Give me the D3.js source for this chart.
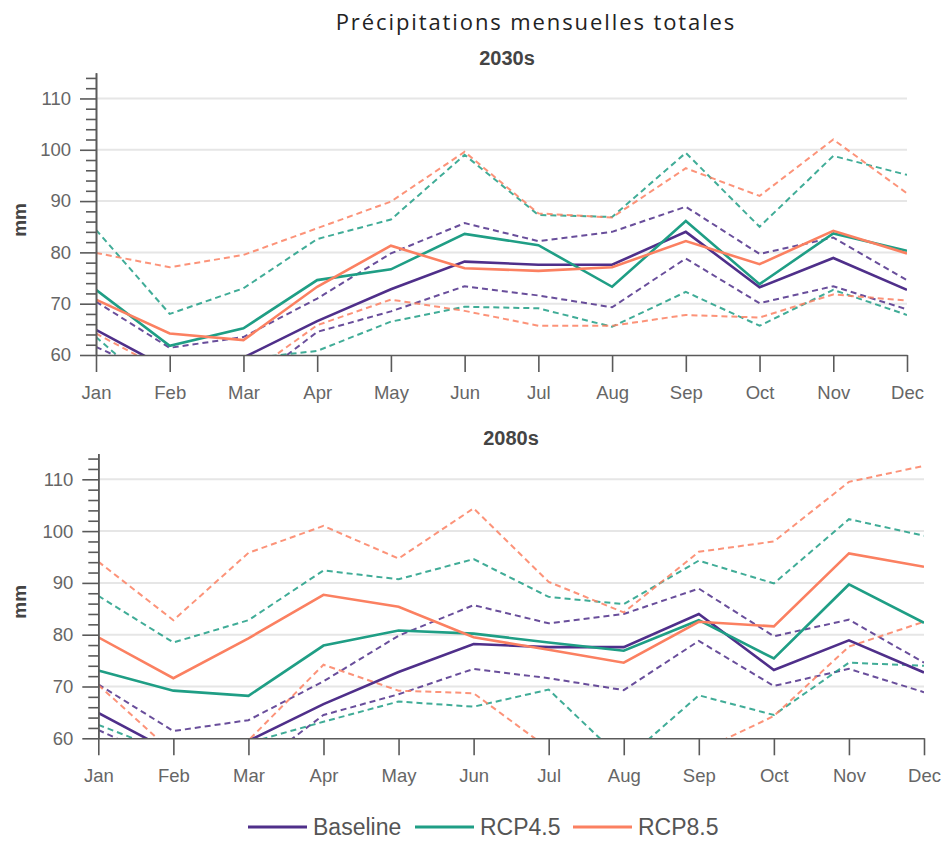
<!DOCTYPE html>
<html>
<head>
<meta charset="utf-8">
<script src="https://d3js.org/d3.v7.min.js"></script>
<style>
    body { margin: 0; background: #fff; }
    svg { display: block; }
    .axis path, .axis line { stroke: #5a5a5a; stroke-width: 1.6; }
    .axis text { font-family: "Liberation Sans", Arial, sans-serif; font-size: 18.5px; fill: #666; }
    .grid line { stroke: #e6e6e6; stroke-width: 2; }
</style>
</head>
<body>
<svg id="chart" width="946" height="842"></svg>
<script>
// mois
const months = ['Jan', 'Feb', 'Mar', 'Apr', 'May', 'Jun', 'Jul', 'Aug', 'Sep', 'Oct', 'Nov', 'Dec'];
const yTicks = [60, 70, 80, 90, 100, 110];
const scenarios = ['Baseline', 'RCP4.5', 'RCP8.5'];

// baseline (identique dans les deux panneaux)
const baselineMean = [64.9, 57.2, 59.5, 66.6, 72.8, 78.2, 77.6, 77.6, 84.0, 73.2, 78.9, 72.7];
const baselineHigh = [70.4, 61.4, 63.5, 71.0, 79.8, 85.7, 82.2, 84.0, 88.9, 79.7, 82.9, 74.6];
const baselineLow = [61.6, 55.0, 53.5, 64.5, 68.5, 73.4, 71.6, 69.3, 78.8, 70.1, 73.4, 68.9];

// 2030s
const rcp45Mean30 = [72.7, 61.8, 65.2, 74.6, 76.7, 83.6, 81.4, 73.3, 86.1, 73.8, 83.7, 80.3];
const rcp45High30 = [84.4, 68.0, 73.0, 82.6, 86.4, 99.0, 87.3, 86.9, 99.4, 85.0, 98.8, 95.1];
const rcp45Low30 = [63.5, 51.0, 59.2, 60.8, 66.5, 69.4, 69.1, 65.5, 72.3, 65.7, 72.7, 67.8];
const rcp85Mean30 = [70.8, 64.2, 62.9, 73.3, 81.3, 76.9, 76.4, 77.1, 82.2, 77.7, 84.2, 79.8];
const rcp85High30 = [79.9, 77.1, 79.5, 84.7, 89.9, 99.6, 87.6, 86.8, 96.4, 91.0, 102.0, 91.5];
const rcp85Low30 = [64.2, 56.5, 55.5, 65.8, 70.8, 68.6, 65.7, 65.7, 67.8, 67.3, 71.8, 70.6];

// 2080s
const rcp45Mean80 = [73.1, 69.2, 68.2, 77.9, 80.8, 80.2, 78.5, 76.9, 82.8, 75.4, 89.7, 82.3];
const rcp45High80 = [87.5, 78.5, 82.8, 92.4, 90.7, 94.6, 87.3, 85.9, 94.3, 89.9, 102.3, 99.1];
const rcp45Low80 = [62.6, 57.0, 59.1, 63.2, 67.1, 66.1, 69.4, 55.6, 68.3, 64.5, 74.6, 74.0];
const rcp85Mean80 = [79.5, 71.6, 79.3, 87.7, 85.4, 79.5, 77.1, 74.6, 82.5, 81.6, 95.7, 93.1];
const rcp85High80 = [94.1, 82.8, 95.8, 101.0, 94.7, 104.4, 90.2, 84.3, 96.0, 98.0, 109.5, 112.6];
const rcp85Low80 = [70.3, 57.2, 59.6, 74.2, 69.2, 68.7, 58.0, 55.0, 57.4, 64.3, 77.7, 82.5];

const colors = { 'Baseline': '#4f2f8a', 'RCP4.5': '#1f9e85', 'RCP8.5': '#fb8061' };

let svg = d3.select('svg#chart');

const config = {
    font: '"Liberation Sans", Arial, sans-serif',
    solidWidth: 2.6,
    dashWidth: 2,
};

svg.append('text')
    .attr('x', 536).attr('y', 30)
    .attr('text-anchor', 'middle')
    .style('font-family', '"Open Sans", sans-serif')
    .style('font-size', '22px')
    .style('letter-spacing', '1.9px')
    .style('fill', '#222')
    .text('Précipitations mensuelles totales');

const drawPanel = (id, p, title, series) => {
    const g = svg.append('g').attr('id', id);

    const x = d3.scalePoint().domain(months).range([p.left, p.right]);
    const y = d3.scaleLinear().domain([60, 115]).range([p.bottom, p.top]);

    // grille
    g.append('g').classed('grid', true)
        .selectAll('line').data(yTicks.filter(d => d > 60)).enter()
        .append('line')
        .attr('x1', p.left).attr('x2', p.right)
        .attr('y1', d => y(d)).attr('y2', d => y(d));

    // lignes, coupées au cadre
    g.append('clipPath').attr('id', id + '_clip')
        .append('rect')
        .attr('x', p.left).attr('y', p.top)
        .attr('width', p.right - p.left).attr('height', p.bottom - p.top);

    const line = d3.line()
        .x((d, i) => x(months[i]))
        .y(d => y(d));

    const lines = g.append('g').attr('clip-path', 'url(#' + id + '_clip)');
    lines.selectAll('path').data(series).enter()
        .append('path')
        .attr('d', d => line(d.values))
        .attr('fill', 'none')
        .attr('stroke', d => colors[d.name])
        .attr('stroke-width', d => d.dashed ? config.dashWidth : config.solidWidth)
        .attr('stroke-dasharray', d => d.dashed ? '6,4' : null)
        .attr('opacity', d => d.dashed ? 0.85 : 1);

    // axe y
    const minor = d3.range(60, 115, 2).filter(d => d % 10 != 0);
    g.append('g').classed('axis', true)
        .attr('transform', 'translate(' + p.left + ',0)')
        .call(d3.axisLeft(y).tickValues(minor).tickSize(10).tickSizeOuter(0).tickFormat(''));
    g.append('g').classed('axis', true)
        .attr('transform', 'translate(' + p.left + ',0)')
        .call(d3.axisLeft(y).tickValues(yTicks).tickSize(16).tickSizeOuter(0).tickPadding(9));

    // axe x
    g.append('g').classed('axis', true)
        .attr('transform', 'translate(0,' + p.bottom + ')')
        .call(d3.axisBottom(x).tickSize(17).tickSizeOuter(0).tickPadding(14));

    g.append('text')
        .attr('transform', 'translate(26,' + ((p.top + p.bottom) / 2 + 6) + ') rotate(-90)')
        .attr('text-anchor', 'middle')
        .style('font-family', config.font)
        .style('font-weight', 'bold')
        .style('font-size', '19px')
        .style('fill', '#444')
        .text('mm');

    g.append('text')
        .attr('x', p.titleX).attr('y', p.titleY)
        .attr('text-anchor', 'middle')
        .style('font-family', config.font)
        .style('font-weight', 'bold')
        .style('font-size', '20px')
        .style('fill', '#444')
        .text(title);
};

const series30 = [
    { name: 'Baseline', dashed: true, values: baselineHigh },
    { name: 'Baseline', dashed: true, values: baselineLow },
    { name: 'RCP4.5', dashed: true, values: rcp45High30 },
    { name: 'RCP4.5', dashed: true, values: rcp45Low30 },
    { name: 'RCP8.5', dashed: true, values: rcp85High30 },
    { name: 'RCP8.5', dashed: true, values: rcp85Low30 },
    { name: 'Baseline', dashed: false, values: baselineMean },
    { name: 'RCP4.5', dashed: false, values: rcp45Mean30 },
    { name: 'RCP8.5', dashed: false, values: rcp85Mean30 },
];

const series80 = [
    { name: 'Baseline', dashed: true, values: baselineHigh },
    { name: 'Baseline', dashed: true, values: baselineLow },
    { name: 'RCP4.5', dashed: true, values: rcp45High80 },
    { name: 'RCP4.5', dashed: true, values: rcp45Low80 },
    { name: 'RCP8.5', dashed: true, values: rcp85High80 },
    { name: 'RCP8.5', dashed: true, values: rcp85Low80 },
    { name: 'Baseline', dashed: false, values: baselineMean },
    { name: 'RCP4.5', dashed: false, values: rcp45Mean80 },
    { name: 'RCP8.5', dashed: false, values: rcp85Mean80 },
];

drawPanel('p2030', { left: 96, right: 907, top: 72.8, bottom: 355, titleX: 507, titleY: 65 }, '2030s', series30);
drawPanel('p2080', { left: 98.3, right: 924, top: 453.4, bottom: 738.3, titleX: 511, titleY: 445 }, '2080s', series80);

// légende
const legend = svg.append('g').attr('id', 'legend');
const legendX = [248, 415, 573];
const item = legend.selectAll('g').data(scenarios).enter()
    .append('g')
    .attr('transform', (d, i) => 'translate(' + legendX[i] + ',827)');
item.append('line')
    .attr('x1', 0).attr('x2', 59)
    .attr('stroke', d => colors[d])
    .attr('stroke-width', 3);
item.append('text')
    .attr('x', 65).attr('dy', '0.35em')
    .style('font-family', config.font)
    .style('font-size', '23px')
    .style('fill', '#555')
    .text(d => d);
</script>
</body>
</html>
